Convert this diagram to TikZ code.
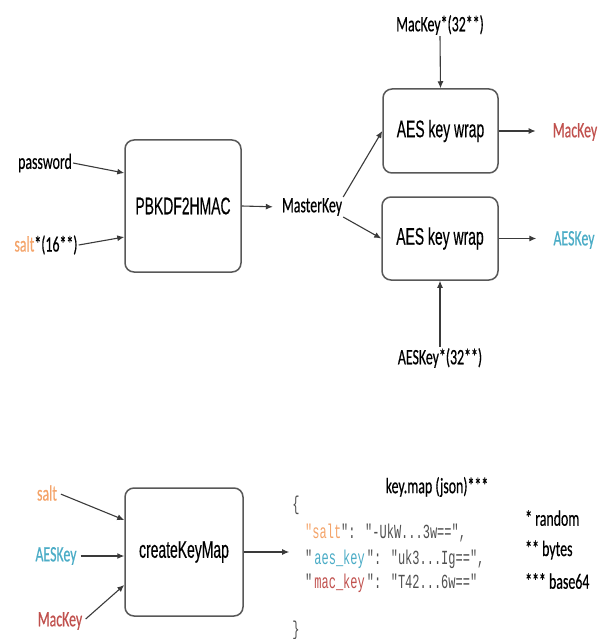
\documentclass[tikz,border=0pt]{standalone}
\usepackage{graphicx}
\usepackage{fontspec}
\setmainfont{Carlito}[FakeBold=0.6]
\newfontfamily\boxfont{Liberation Sans}[FakeBold=0.5]
\newfontfamily\codefont{Liberation Mono}
\usetikzlibrary{arrows.meta,calc}
\definecolor{saltc}{HTML}{F4A46A}
\definecolor{aesc}{HTML}{4BACC6}
\definecolor{macc}{HTML}{C0504D}
\definecolor{linec}{HTML}{3A3A3A}
\definecolor{codec}{HTML}{505050}
\newcommand{\sqL}[1]{\scalebox{0.63}[1]{#1}}
\newcommand{\sqB}[1]{\scalebox{0.58}[1]{#1}}
\newcommand{\sqM}[1]{\scalebox{0.6}[1]{#1}}
\begin{document}
\begin{tikzpicture}[x=1pt,y=-1pt,
  proc/.style={draw=linec!85, line width=1.5pt, rounded corners=9pt, fill=white, inner sep=0pt,
    font=\boxfont\fontsize{24}{28}\selectfont, text=black},
  lbl/.style={inner sep=1pt, font=\fontsize{22}{26}\selectfont, text=black},
  code/.style={inner sep=0pt, anchor=west, font=\codefont\fontsize{20}{24}\selectfont, text=codec},
  arr/.style={draw=linec, line width=1.1pt, -{Latex[length=7pt,width=6pt]}}
]
\useasboundingbox (0,0) rectangle (606,639);
% process boxes
\node[proc, minimum width=116pt, minimum height=132pt] (pbk) at (183,206) {\sqB{PBKDF2HMAC}};
\node[proc, minimum width=115pt, minimum height=84pt] (aes1) at (440.5,131) {\sqB{AES key wrap}};
\node[proc, minimum width=116pt, minimum height=83pt] (aes2) at (440,238.5) {\sqB{AES key wrap}};
\node[proc, minimum width=118pt, minimum height=128pt] (ckm) at (184,552) {\sqB{createKeyMap}};
% top labels
\node[lbl] (pw) at (45,163) {\sqL{password}};
\node[lbl] (s16) at (46,245) {\sqL{\textcolor{saltc}{salt}*(16**)}};
\node[lbl] (mk) at (312,207) {\sqL{MasterKey}};
\node[lbl] (mk32) at (440,25) {\sqL{MacKey*(32**)}};
\node[lbl] (ak32) at (440,358) {\sqL{AESKey*(32**)}};
\node[lbl, text=macc] (mkout) at (575,132) {\sqL{MacKey}};
\node[lbl, text=aesc] (akout) at (574,240) {\sqL{AESKey}};
% top connectors
\draw[arr] (pw.east) -- ($(pbk.west)+(0,-33)$);
\draw[arr] (s16.east) -- ($(pbk.west)+(0,31)$);
\draw[arr, shorten >=8pt] (pbk.east) -- (mk.west);
\draw[arr] (mk.north east) -- (aes1.west);
\draw[arr] (mk.south east) -- (aes2.west);
\draw[arr, shorten >=16pt] (aes1.east) -- (aes1.east -| mkout.west);
\draw[arr, shorten >=16pt] (aes2.east) -- (aes2.east -| akout.west);
\draw[arr] (mk32.south) -- (aes1.north);
\draw[arr] (ak32.north) -- (aes2.south);
% bottom labels
\node[lbl, text=saltc] (s) at (47,493) {\sqL{salt}};
\node[lbl, text=aesc] (ak) at (56,556) {\sqL{AESKey}};
\node[lbl, text=macc] (mc) at (60,621) {\sqL{MacKey}};
\draw[arr, shorten <=3pt] (s.east) -- ($(ckm.west)+(0,-32)$);
\draw[arr, shorten <=3pt] (ak.east) -- (ak.east -| ckm.west);
\draw[arr, shorten <=3pt] (mc.east) -- ($(ckm.west)+(0,33)$);
% json
\node[code, anchor=center] (lb) at (296,505) {\sqM{\{}};
\node[code, anchor=center] (rb) at (296,630) {\sqM{\}}};
\draw[arr, shorten >=3pt] (ckm.east) -- (ckm.east -| lb.west);
\node[lbl] (jt) at (437,487) {\sqL{key.map (json)***}};
\node[code] (c1) at (305,533) {\sqM{\textcolor{saltc}{"salt}": "-UkW...3w==",}};
\node[code] (c2) at (305,559) {\sqM{"\,\textcolor{aesc}{aes\_key}\,": "uk3...Ig==",}};
\node[code] (c3) at (305,583) {\sqM{"\,\textcolor{macc}{mac\_key}\,": "T42...6w=="}};
% legend
\node[lbl, anchor=west] (l1) at (524,518) {\sqL{* random}};
\node[lbl, anchor=west] (l2) at (524,550) {\sqL{** bytes}};
\node[lbl, anchor=west] (l3) at (524,581) {\sqL{*** base64}};
\end{tikzpicture}
\end{document}
